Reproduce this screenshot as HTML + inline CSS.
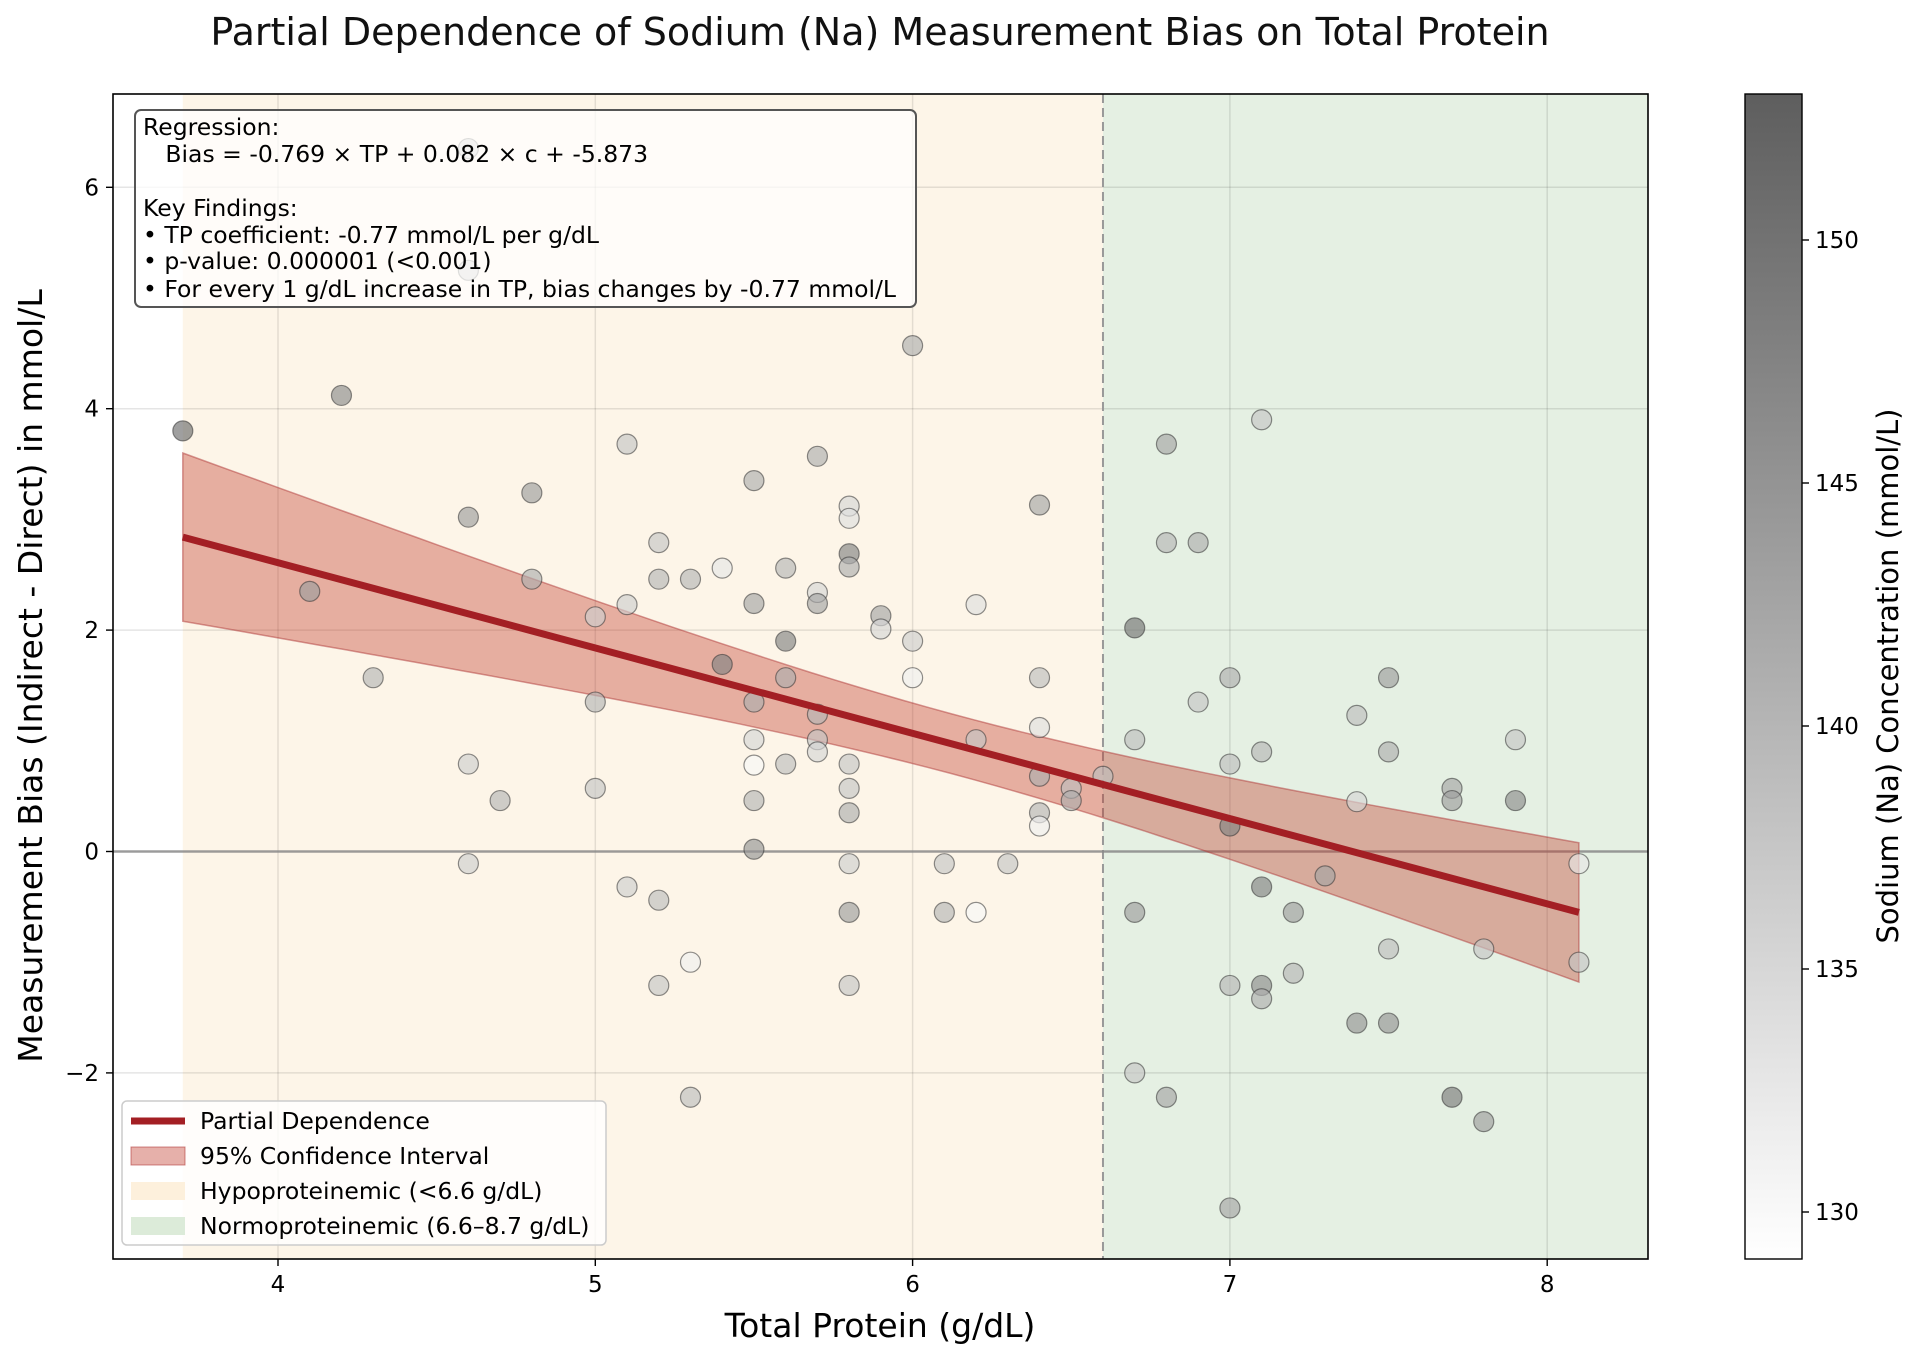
<!DOCTYPE html>
<html><head><meta charset="utf-8"><style>
html,body{margin:0;padding:0;background:#fff;}
svg{display:block;font-family:"DejaVu Sans","Liberation Sans",sans-serif;}
</style></head><body>
<svg id="s" width="1920" height="1361" viewBox="0 0 1920 1361" xmlns="http://www.w3.org/2000/svg">
<defs>
<linearGradient id="cb" x1="0" y1="1" x2="0" y2="0">
<stop offset="0" stop-color="#ffffff"/><stop offset="1" stop-color="#5e5e5e"/>
</linearGradient>
<clipPath id="pc"><rect x="113" y="94" width="1535" height="1165"/></clipPath>
</defs>
<text x="880" y="45" font-size="38" text-anchor="middle" fill="#111">Partial Dependence of Sodium (Na) Measurement Bias on Total Protein</text>
<g id="plot" clip-path="url(#pc)"></g>
<g id="ov"></g>
</svg>
<script>
const NS="http://www.w3.org/2000/svg";
const X=v=>278+(v-4)*317.3, Y=v=>851.5-v*110.7;
const plot=document.getElementById('plot'), ov=document.getElementById('ov');
function el(p,t,a,txt){const e=document.createElementNS(NS,t);for(const k in a)e.setAttribute(k,a[k]);if(txt!==undefined)e.textContent=txt;p.appendChild(e);return e;}
el(plot,'rect',{x:X(3.7),y:94,width:X(6.6)-X(3.7),height:1165,fill:'#fdf5e8'});
el(plot,'rect',{x:X(6.6),y:94,width:1648-X(6.6),height:1165,fill:'#e5f0e3'});
for(let v=4;v<=8;v++)el(plot,'line',{x1:X(v),x2:X(v),y1:94,y2:1259,stroke:'#000','stroke-opacity':0.1,'stroke-width':1.5});
for(let v=-2;v<=6;v+=2)el(plot,'line',{x1:113,x2:1648,y1:Y(v),y2:Y(v),stroke:'#000','stroke-opacity':0.1,'stroke-width':1.5});
el(plot,'line',{x1:X(6.6),x2:X(6.6),y1:94,y2:1259,stroke:'#999','stroke-width':2,'stroke-dasharray':'9,5'});
el(plot,'line',{x1:113,x2:1648,y1:Y(0),y2:Y(0),stroke:'#888','stroke-width':2.5,'stroke-opacity':0.8});
const c=x=>2.84-0.7705*(x-3.7), h=x=>Math.sqrt(0.073+0.0845*(x-6.143)**2);
let up=[],lo=[];
for(let i=0;i<=60;i++){const x=3.7+4.4*i/60;up.push(X(x).toFixed(1)+','+Y(c(x)+h(x)).toFixed(1));lo.unshift(X(x).toFixed(1)+','+Y(c(x)-h(x)).toFixed(1));}
el(plot,'polygon',{points:up.concat(lo).join(' '),fill:'#c0392b','fill-opacity':0.38,stroke:'#b03a3a','stroke-opacity':0.5,'stroke-width':1.5});
const P=[[3.7,3.8,.9],[4.2,4.12,.7],[4.1,2.35,.6],[4.3,1.57,.45],[4.6,6.35,.4],[4.6,5.25,.4],[4.6,3.02,.6],[4.8,3.24,.6],[4.8,2.46,.5],[4.6,.79,.3],[4.7,.46,.45],[4.6,-.11,.3],[5,2.12,.3],[5,1.35,.45],[5,.57,.35],[5.1,3.68,.35],[5.1,2.23,.3],[5.1,-.32,.3],[5.2,2.79,.35],[5.2,2.46,.45],[5.2,-.44,.4],[5.2,-1.21,.35],[5.3,2.46,.45],[5.3,-1,.1],[5.3,-2.22,.4],[5.4,2.56,.15],[5.4,1.69,.75],[5.5,3.35,.5],[5.5,2.24,.55],[5.5,1.35,.5],[5.5,1.01,.25],[5.5,.78,.05],[5.5,.46,.45],[5.5,.02,.65],[5.6,2.56,.45],[5.6,1.9,.75],[5.6,1.57,.5],[5.6,.79,.4],[5.7,3.57,.5],[5.7,2.34,.25],[5.7,2.24,.55],[5.7,1.24,.45],[5.7,1.01,.35],[5.7,.9,.25],[5.8,3.12,.25],[5.8,3.01,.2],[5.8,2.69,.75],[5.8,2.57,.5],[5.8,.79,.35],[5.8,.57,.35],[5.8,.35,.5],[5.8,-.11,.3],[5.8,-.55,.6],[5.8,-1.21,.35],[5.9,2.13,.55],[5.9,2.01,.25],[6,4.57,.5],[6,1.9,.3],[6,1.57,.1],[6.1,-.11,.35],[6.1,-.55,.45],[6.2,2.23,.2],[6.2,1.01,.35],[6.2,-.55,.05],[6.3,-.11,.35],[6.4,3.13,.55],[6.4,1.57,.4],[6.4,1.12,.2],[6.4,.68,.5],[6.4,.35,.45],[6.4,.23,.1],[6.5,.57,.4],[6.5,.46,.5],[6.6,.68,.4],
[6.7,2.02,.85],[6.7,1.01,.4],[6.7,-.55,.6],[6.7,-2,.35],[6.8,3.68,.55],[6.8,2.79,.45],[6.8,-2.22,.55],[6.9,2.79,.5],[6.9,1.35,.35],[7,1.57,.5],[7,.79,.4],[7,.23,.75],[7,-1.21,.45],[7,-3.22,.55],[7.1,3.9,.35],[7.1,.9,.45],[7.1,-.32,.75],[7.1,-1.21,.7],[7.1,-1.33,.5],[7.2,-.55,.6],[7.2,-1.1,.45],[7.3,-.22,.55],[7.4,1.23,.4],[7.4,.45,.25],[7.4,-1.55,.65],[7.5,1.57,.6],[7.5,.9,.5],[7.5,-.88,.4],[7.5,-1.55,.65],[7.7,.57,.55],[7.7,.46,.6],[7.7,-2.22,.8],[7.8,-.88,.35],[7.8,-2.44,.6],[7.9,1.01,.35],[7.9,.46,.7],[8.1,-.11,.15],[8.1,-1,.35]];
for(const [x,y,d] of P){const g=Math.round(255-d*165);el(plot,'circle',{cx:X(x),cy:Y(y),r:10,fill:`rgb(${g},${g},${g})`,'fill-opacity':0.65,stroke:'#333','stroke-opacity':0.55,'stroke-width':1.2});}
el(plot,'line',{x1:X(3.7),y1:Y(2.84),x2:X(8.1),y2:Y(c(8.1)),stroke:'#a31f24','stroke-width':7});
el(ov,'rect',{x:113,y:94,width:1535,height:1165,fill:'none',stroke:'#000','stroke-width':1.6});
for(let v=4;v<=8;v++){el(ov,'line',{x1:X(v),x2:X(v),y1:1259,y2:1266,stroke:'#000','stroke-width':1.4});el(ov,'text',{x:X(v),y:1292,'font-size':23,'text-anchor':'middle'},String(v));}
for(let v=-2;v<=6;v+=2){el(ov,'line',{x1:106,x2:113,y1:Y(v),y2:Y(v),stroke:'#000','stroke-width':1.4});el(ov,'text',{x:99,y:Y(v)+8,'font-size':23,'text-anchor':'end'},v<0?'\u2212'+(-v):String(v));}
el(ov,'text',{x:880,y:1337,'font-size':33,'text-anchor':'middle'},'Total Protein (g/dL)');
el(ov,'text',{x:0,y:0,'font-size':33,'text-anchor':'middle',transform:'translate(42,676) rotate(-90)'},'Measurement Bias (Indirect - Direct) in mmol/L');
el(ov,'rect',{x:135,y:110,width:781,height:197,rx:6,fill:'#fff','fill-opacity':0.72,stroke:'#555','stroke-width':2});
const tl=[['Regression:',127],['   Bias = -0.769 \u00d7 TP + 0.082 \u00d7 c + -5.873',154],['Key Findings:',208],['\u2022 TP coefficient: -0.77 mmol/L per g/dL',235],['\u2022 p-value: 0.000001 (<0.001)',261],['\u2022 For every 1 g/dL increase in TP, bias changes by -0.77 mmol/L',289]];
for(const [t,y] of tl){const e=el(ov,'text',{x:143,y:y+8,'font-size':23.5},t);e.style.whiteSpace='pre';}
el(ov,'rect',{x:122,y:1101,width:484,height:144,rx:5,fill:'#fff','fill-opacity':0.8,stroke:'#ccc','stroke-width':1.5});
const L=[['Partial Dependence',1121],['95% Confidence Interval',1156],['Hypoproteinemic (<6.6 g/dL)',1191],['Normoproteinemic (6.6\u20138.7 g/dL)',1226]];
el(ov,'line',{x1:131,x2:185,y1:1121,y2:1121,stroke:'#a31f24','stroke-width':7});
el(ov,'rect',{x:131,y:1147,width:54,height:18,fill:'#c0392b','fill-opacity':0.4,stroke:'#b03a3a','stroke-opacity':0.6});
el(ov,'rect',{x:131,y:1182,width:54,height:18,fill:'#fdf0dc'});
el(ov,'rect',{x:131,y:1217,width:54,height:18,fill:'#dcebd9'});
for(const [t,y] of L)el(ov,'text',{x:200,y:y+8,'font-size':23.5},t);
el(ov,'rect',{x:1745,y:94,width:57,height:1165,fill:'url(#cb)',stroke:'#000','stroke-width':1.4});
for(let v=130;v<=150;v+=5){const y=1212-(v-130)*48.6;el(ov,'line',{x1:1802,x2:1809,y1:y,y2:y,stroke:'#000','stroke-width':1.4});el(ov,'text',{x:1815,y:y+8,'font-size':23},String(v));}
el(ov,'text',{x:0,y:0,'font-size':29,'text-anchor':'middle',transform:'translate(1898,676) rotate(-90)'},'Sodium (Na) Concentration (mmol/L)');
</script>
</body></html>
